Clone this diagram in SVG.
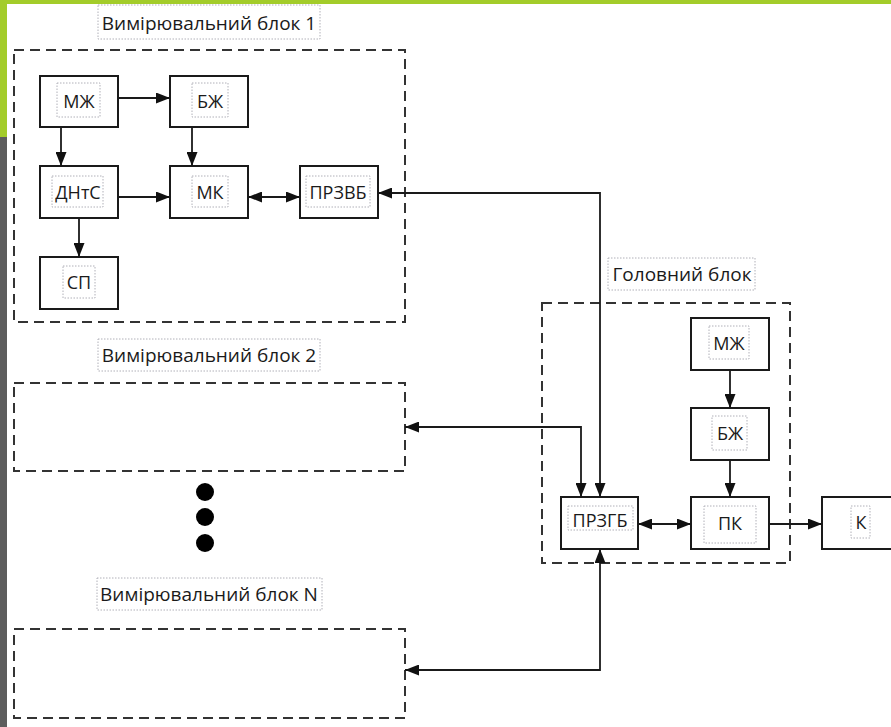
<svg xmlns="http://www.w3.org/2000/svg" width="891" height="727" viewBox="0 0 891 727">
<style>
.node{fill:#fff;stroke:#1a1a1a;stroke-width:2}
.grp{fill:none;stroke:#333;stroke-width:2;stroke-dasharray:10 6}
.tb{fill:none;stroke:#b0b0b8;stroke-width:1;stroke-dasharray:1.5 1.5}
.t{font-family:"Open Sans","Liberation Sans",sans-serif;font-size:18px;fill:#1a1a1a;text-anchor:middle;dominant-baseline:central}
.lbl{font-family:"Open Sans","Liberation Sans",sans-serif;font-size:19px;fill:#1a1a1a;text-anchor:middle}
.c{fill:none;stroke:#1a1a1a;stroke-width:1.8}
</style>
<defs>
<marker id="ah" viewBox="0 0 14 11" refX="14" refY="5.5" markerWidth="14" markerHeight="11" markerUnits="userSpaceOnUse" orient="auto-start-reverse">
<path d="M0,0 L14,5.5 L0,11 z" fill="#111"/>
</marker>
</defs>
<rect x="0" y="0" width="891" height="727" fill="#fff"/>
<rect x="0" y="0" width="891" height="4" fill="#a3cc2a"/>
<rect x="0" y="0" width="7" height="137" fill="#a3cc2a"/>
<rect x="0" y="137" width="7" height="590" fill="#5d5d5d"/>

<g id="vb1">
<rect class="grp" x="14" y="50" width="391" height="272"/>
<rect class="tb" x="98" y="5" width="222" height="34"/>
<text class="lbl" x="209" y="30">Вимірювальний блок 1</text>
</g>
<g id="vb2">
<rect class="grp" x="14" y="383" width="391" height="88"/>
<rect class="tb" x="98" y="339" width="222" height="32"/>
<text class="lbl" x="209" y="362">Вимірювальний блок 2</text>
</g>
<g id="vbN">
<rect class="grp" x="14" y="629" width="391" height="89"/>
<rect class="tb" x="97" y="578" width="225" height="32"/>
<text class="lbl" x="209" y="601">Вимірювальний блок N</text>
</g>
<g id="gb">
<rect class="grp" x="542" y="303" width="248" height="260"/>
<rect class="tb" x="608" y="258" width="147" height="32"/>
<text class="lbl" x="682" y="281">Головний блок</text>
</g>
<g id="dots">
<circle cx="205" cy="492" r="9" fill="#000"/>
<circle cx="205" cy="517" r="9" fill="#000"/>
<circle cx="205" cy="543" r="9" fill="#000"/>
</g>

<g id="mzh1"><rect class="node" x="40" y="76" width="78" height="51"/><rect class="tb" x="57" y="83" width="43" height="34"/><text class="t" x="79" y="101">МЖ</text></g>
<g id="bzh1"><rect class="node" x="170" y="76" width="78" height="51"/><rect class="tb" x="192" y="83" width="36" height="34"/><text class="t" x="210" y="101">БЖ</text></g>
<g id="dnts"><rect class="node" x="40" y="166" width="78" height="52"/><rect class="tb" x="52" y="176" width="51" height="31"/><text class="t" x="78" y="192">ДНтС</text></g>
<g id="mk"><rect class="node" x="170" y="166" width="78" height="52"/><rect class="tb" x="192" y="176" width="36" height="31"/><text class="t" x="210" y="192">МК</text></g>
<g id="przvb"><rect class="node" x="300" y="166" width="78" height="52"/><rect class="tb" x="306" y="176" width="64" height="31"/><text class="t" x="338" y="192">ПРЗВБ</text></g>
<g id="sp"><rect class="node" x="40" y="257" width="78" height="52"/><rect class="tb" x="63" y="266" width="32" height="32"/><text class="t" x="79" y="282">СП</text></g>

<g id="mzh2"><rect class="node" x="691" y="318" width="78" height="52"/><rect class="tb" x="709" y="326" width="40" height="33"/><text class="t" x="729" y="343">МЖ</text></g>
<g id="bzh2"><rect class="node" x="691" y="408" width="78" height="52"/><rect class="tb" x="712" y="416" width="35" height="34"/><text class="t" x="730" y="433">БЖ</text></g>
<g id="pk"><rect class="node" x="691" y="497" width="78" height="52"/><rect class="tb" x="704" y="506" width="52" height="37"/><text class="t" x="730" y="523">ПК</text></g>
<g id="przgb"><rect class="node" x="561" y="497" width="77" height="52"/><rect class="tb" x="568" y="506" width="65" height="24"/><text class="t" x="600" y="520">ПРЗГБ</text></g>
<g id="k"><rect class="node" x="822" y="497" width="80" height="52"/><rect class="tb" x="851" y="506" width="19" height="32"/><text class="t" x="861" y="522">К</text></g>

<g id="connectors">
<path class="c" d="M118 98 H170" marker-end="url(#ah)"/>
<path class="c" d="M61 127 V166" marker-end="url(#ah)"/>
<path class="c" d="M192 127 V166" marker-end="url(#ah)"/>
<path class="c" d="M118 197 H170" marker-end="url(#ah)"/>
<path class="c" d="M248 197 H300" marker-start="url(#ah)" marker-end="url(#ah)"/>
<path class="c" d="M79 218 V257" marker-end="url(#ah)"/>
<path class="c" d="M378 193 H600 V497" marker-start="url(#ah)" marker-end="url(#ah)"/>
<path class="c" d="M405 427 H581 V497" marker-start="url(#ah)" marker-end="url(#ah)"/>
<path class="c" d="M405 670 H600 V549" marker-start="url(#ah)" marker-end="url(#ah)"/>
<path class="c" d="M730 370 V408" marker-end="url(#ah)"/>
<path class="c" d="M730 460 V497" marker-end="url(#ah)"/>
<path class="c" d="M638 524 H691" marker-start="url(#ah)" marker-end="url(#ah)"/>
<path class="c" d="M769 524 H822" marker-end="url(#ah)"/>
</g>
</svg>
